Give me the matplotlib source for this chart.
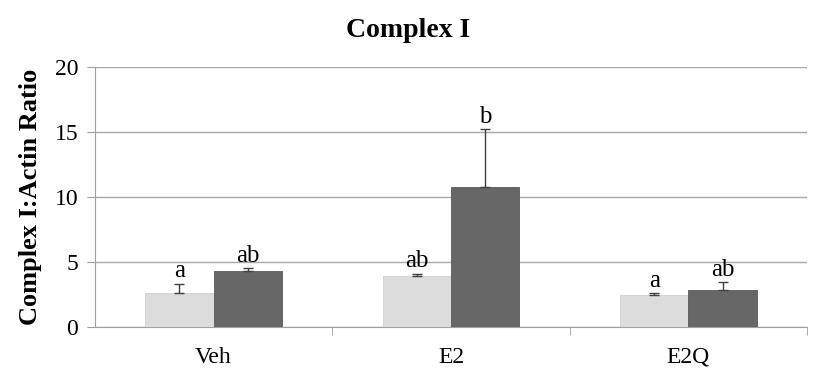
import numpy as np
import matplotlib.pyplot as plt

plt.rcParams['font.family'] = ['Liberation Serif', 'DejaVu Serif']

groups = ['Veh', 'E2', 'E2Q']
light_vals = [2.6, 3.9, 2.5]
light_err = [0.75, 0.2, 0.12]
dark_vals = [4.3, 10.8, 2.85]
dark_err = [0.25, 4.4, 0.6]
light_letters = ['a', 'ab', 'a']
dark_letters = ['ab', 'b', 'ab']

fig = plt.figure(figsize=(8.17, 3.83), dpi=100)
ax = fig.add_axes([0.116, 0.146, 0.872, 0.679])

x = np.arange(len(groups))
w = 0.287
ekw = dict(ecolor='#404040', elinewidth=1, capsize=3.5, capthick=1)
ax.bar(x - w / 2, light_vals, w, color='#dcdcdc', edgecolor='#d0d0d0', linewidth=0.6,
       yerr=[[0] * 3, light_err], error_kw=ekw, zorder=3)
ax.bar(x + w / 2, dark_vals, w, color='#676767', edgecolor='#5a5a5a', linewidth=0.6,
       yerr=[[0] * 3, dark_err], error_kw=ekw, zorder=3)

for i in range(3):
    ax.text(x[i] - w / 2, light_vals[i] + light_err[i] + 0.1, light_letters[i],
            ha='center', va='bottom', fontsize=18)
    ax.text(x[i] + w / 2, dark_vals[i] + dark_err[i] + 0.1, dark_letters[i],
            ha='center', va='bottom', fontsize=18)

ax.set_xlim(-0.5, 2.5)
ax.set_ylim(0, 20)
ax.set_yticks([0, 5, 10, 15, 20])
ax.set_xticks(x)
ax.set_xticklabels(groups)
ax.set_xticks([0.5, 1.5, 2.5], minor=True)
ax.tick_params(axis='x', which='major', length=0, labelsize=17, pad=14)
ax.tick_params(axis='x', which='minor', length=6, color='#a0a0a0')
ax.tick_params(axis='y', length=6, color='#a0a0a0', labelsize=17, pad=6)
ax.yaxis.grid(True, color='#a8a8a8', linewidth=1)
ax.set_axisbelow(True)
for s in ['top', 'right']:
    ax.spines[s].set_visible(False)
ax.spines['left'].set_color('#a0a0a0')
ax.spines['bottom'].set_color('#a0a0a0')

ax.set_ylabel('Complex I:Actin Ratio', fontsize=19, fontweight='bold', labelpad=9)
fig.text(0.5, 0.92, 'Complex I', ha='center', va='center', fontsize=20, fontweight='bold')

fig.savefig('out.png', dpi=100)
